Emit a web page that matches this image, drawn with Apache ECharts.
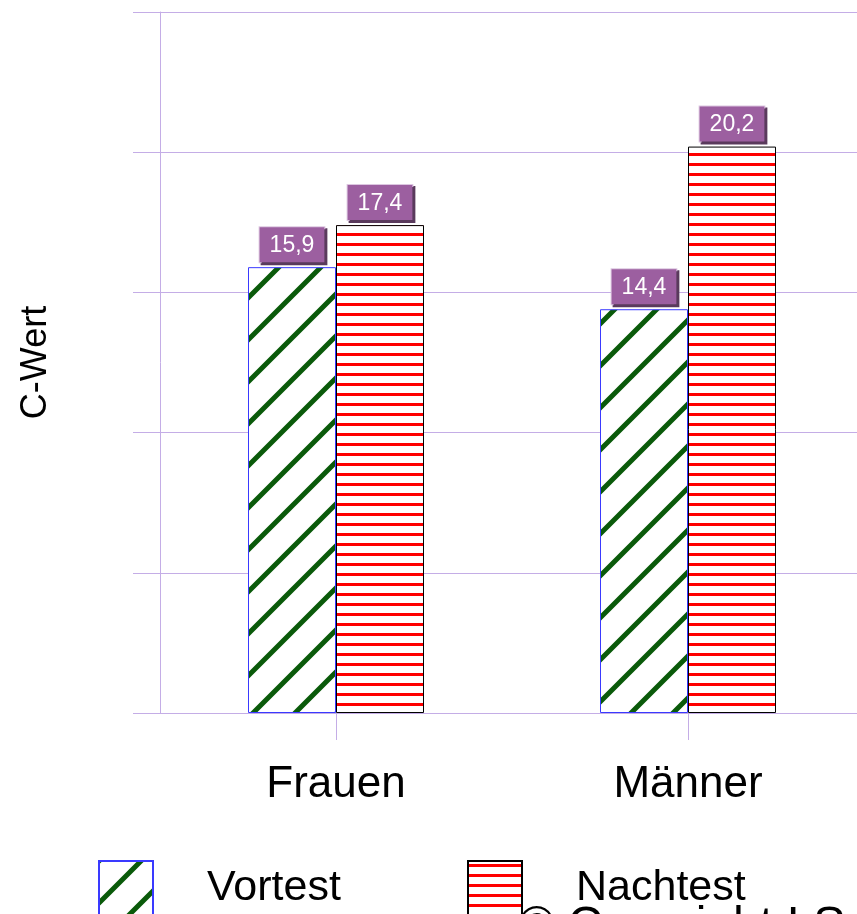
<!DOCTYPE html>
<html style="height: 100%">
	<head>
		<meta charset="utf-8">
	</head>
	<body style="height: 100%; margin: 0; background: #fff">
		<div id="container" style="width: 857px; height: 914px"></div>

		<script type="text/javascript" src="https://cdn.jsdelivr.net/npm/echarts@6/dist/echarts.min.js"></script>
		<script type="text/javascript">
			// data
			const categories = ['Frauen', 'Männer'];
			const seriesNames = ['Vortest', 'Nachtest'];
			const vortest = [15.9, 14.4];
			const nachtest = [17.4, 20.2];
			const yMax = 25;
			const yStep = 5;

			const font = '"Liberation Sans", Arial, sans-serif';
			const gridColor = '#c4ade6';

			// diagonal green hatch
			function hatch() {
				const c = document.createElement('canvas');
				c.width = 42;
				c.height = 42;
				const g = c.getContext('2d');
				g.fillStyle = '#fff';
				g.fillRect(0, 0, 42, 42);
				g.strokeStyle = '#0a5a0a';
				g.lineWidth = 5;
				g.beginPath();
				[-42, 0, 42].forEach(function(o) {
					g.moveTo(o - 3, 45);
					g.lineTo(o + 45, -3);
				});
				g.stroke();
				return c;
			}

			// horizontal red stripes
			function stripes() {
				const c = document.createElement('canvas');
				c.width = 10;
				c.height = 10;
				const g = c.getContext('2d');
				g.fillStyle = '#fff';
				g.fillRect(0, 0, 10, 10);
				g.fillStyle = '#ff0000';
				g.fillRect(0, 3, 10, 3);
				return c;
			}

			const labelStyle = {
				show: true,
				position: 'top',
				distance: 5,
				fontFamily: font,
				fontSize: 23,
				color: '#fff',
				backgroundColor: '#9c5fa0',
				borderColor: '#dcc6e0',
				borderWidth: 1,
				shadowColor: '#5a3a5c',
				shadowOffsetX: 2,
				shadowOffsetY: 2,
				shadowBlur: 0,
				padding: [7, 10, 5, 10],
				formatter: function(p) {
					return String(p.value).replace('.', ',');
				}
			};

			function legendFor(name, left) {
				return {
					data: [name],
					left: left,
					top: 860,
					padding: 0,
					icon: 'rect',
					itemWidth: 54,
					itemHeight: 54,
					textStyle: { fontSize: 43, color: '#000', padding: [3, 0, 0, 49] }
				};
			}

			var dom = document.getElementById('container');
			var myChart = echarts.init(dom);

			var option = {
				animation: false,
				textStyle: { fontFamily: font },
				grid: { left: 160, width: 704, top: 12, bottom: 201, outerBoundsMode: 'none' },
				legend: [legendFor(seriesNames[0], 98), legendFor(seriesNames[1], 467)],
				xAxis: {
					type: 'category',
					data: categories,
					axisLine: { lineStyle: { color: gridColor } },
					axisTick: { show: true, alignWithLabel: true, length: 27, lineStyle: { color: gridColor } },
					axisLabel: { fontSize: 44, color: '#000', margin: 50 }
				},
				yAxis: {
					type: 'value',
					min: 0,
					max: yMax,
					interval: yStep,
					name: 'C-Wert',
					nameLocation: 'middle',
					nameGap: 106,
					nameTextStyle: { fontSize: 36, color: '#000' },
					axisLine: { show: true, lineStyle: { color: gridColor } },
					axisTick: { show: true, length: 27, lineStyle: { color: gridColor } },
					axisLabel: { show: false },
					splitLine: { lineStyle: { color: gridColor } }
				},
				series: [{
					name: seriesNames[0],
					type: 'bar',
					data: vortest,
					barGap: '0%',
					barCategoryGap: '50%',
					itemStyle: {
						color: { image: hatch(), repeat: 'repeat' },
						borderColor: '#3a3aff',
						borderWidth: 1
					},
					label: labelStyle
				}, {
					name: seriesNames[1],
					type: 'bar',
					data: nachtest,
					barGap: '0%',
					barCategoryGap: '50%',
					itemStyle: {
						color: { image: stripes(), repeat: 'repeat' },
						borderColor: '#000',
						borderWidth: 1
					},
					label: labelStyle
				}],
				graphic: [{
					type: 'text',
					left: 519,
					top: 903,
					style: {
						text: '© Copyright I S',
						font: '48px "Liberation Sans", Arial, sans-serif',
						fill: '#000'
					}
				}]
			};

			myChart.setOption(option);
		</script>
	</body>
</html>
